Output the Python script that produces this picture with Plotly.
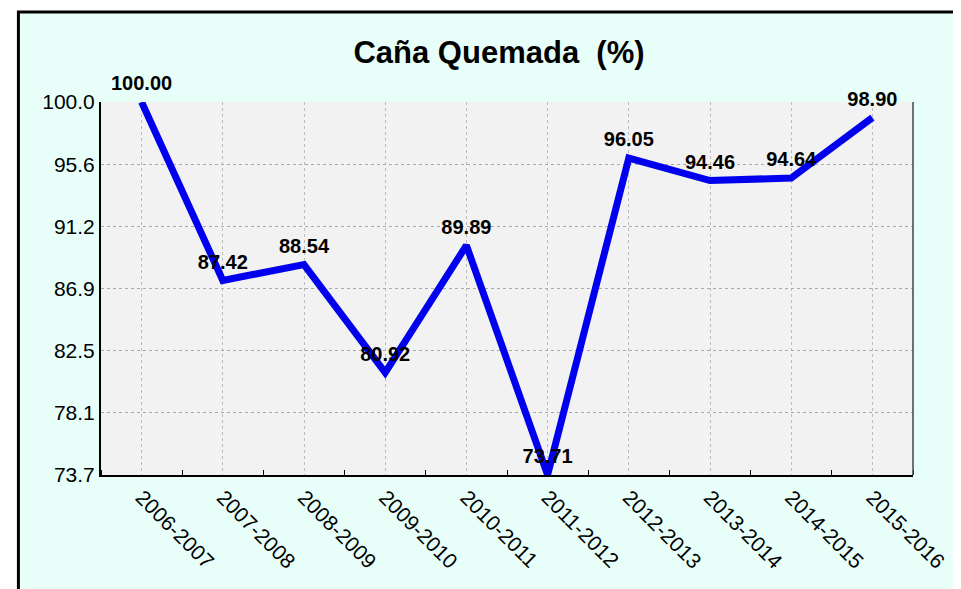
"""Caña Quemada (%) line chart."""
import numpy as np
import plotly.graph_objects as go

seasons = ["2006-2007", "2007-2008", "2008-2009", "2009-2010", "2010-2011",
           "2011-2012", "2012-2013", "2013-2014", "2014-2015", "2015-2016"]
burned_pct = [100.00, 87.42, 88.54, 80.92, 89.89, 73.71, 96.05, 94.46, 94.64, 98.90]
y_tick_text = ["73.7", "78.1", "82.5", "86.9", "91.2", "95.6", "100.0"]
y_min, y_max = 73.7, 100.0

FONT = "Liberation Sans, Arial, sans-serif"
OFF = 8  # page body margin
W, H = 961 - OFF, 589 - OFF
ML, MR, MT, MB = 101 - OFF, 44, 102 - OFF, 122 - OFF
pw, ph = W - ML - MR, H - MT - MB


def px_x(p):
    return (p - OFF - ML) / pw


def px_y(p):
    return (H - MB - (p - OFF)) / ph


x_idx = list(range(len(seasons)))
y_ticks = np.linspace(y_min, y_max, len(y_tick_text))

fig = go.Figure()
fig.add_trace(go.Scatter(
    x=x_idx, y=burned_pct, mode="lines+markers+text",
    line=dict(color="#0000EE", width=7),
    marker=dict(size=9, opacity=0),
    text=[f"{v:.2f}" for v in burned_pct],
    textposition="top center",
    textfont=dict(family=FONT, size=20, color="black", weight="bold"),
    cliponaxis=False, showlegend=False, hoverinfo="x+y",
))

# outer cyan panel with black frame, then the gray plot area on top of it
fig.add_shape(type="rect", xref="paper", yref="paper", layer="below",
              x0=px_x(18), x1=px_x(975), y0=px_y(12), y1=px_y(600),
              fillcolor="#E8FFF9", line=dict(color="black", width=3))
fig.add_shape(type="rect", xref="paper", yref="paper", layer="below",
              x0=0, x1=1, y0=0, y1=1, fillcolor="#F2F2F2", line_width=0)
fig.add_shape(type="line", xref="paper", yref="paper",
              x0=1, x1=1, y0=0, y1=1, line=dict(color="#444444", width=1.5))

fig.update_layout(
    width=W, height=H,
    margin=dict(l=ML, r=MR, t=MT, b=MB),
    paper_bgcolor="white", plot_bgcolor="#F2F2F2",
    font=dict(family=FONT, color="black"),
    title=dict(text="<b>Caña Quemada  (%)</b>", xref="container",
               x=(499 - OFF) / W, xanchor="center",
               y=1 - (52 - OFF) / H, yanchor="middle",
               font=dict(family=FONT, size=31, color="black")),
)
fig.update_xaxes(
    range=[-0.5, len(seasons) - 0.5],
    tickmode="array", tickvals=x_idx, ticktext=seasons,
    tickangle=45, tickfont=dict(size=21, family=FONT),
    ticks="", showline=True, linecolor="black", linewidth=2,
    showgrid=True, gridcolor="#BBBBBB", griddash="dot", gridwidth=1,
    zeroline=False,
    minor=dict(tick0=0.5, dtick=1, ticks="inside", ticklen=5,
               tickcolor="black", tickwidth=1, showgrid=False),
)
fig.update_yaxes(
    range=[y_min, y_max],
    tickmode="array", tickvals=y_ticks, ticktext=y_tick_text,
    tickfont=dict(size=21, family=FONT), ticks="",
    showline=True, linecolor="black", linewidth=2,
    showgrid=True, gridcolor="#AAAAAA", griddash="dot", gridwidth=1,
    zeroline=False,
)

fig.write_html("out.html")
